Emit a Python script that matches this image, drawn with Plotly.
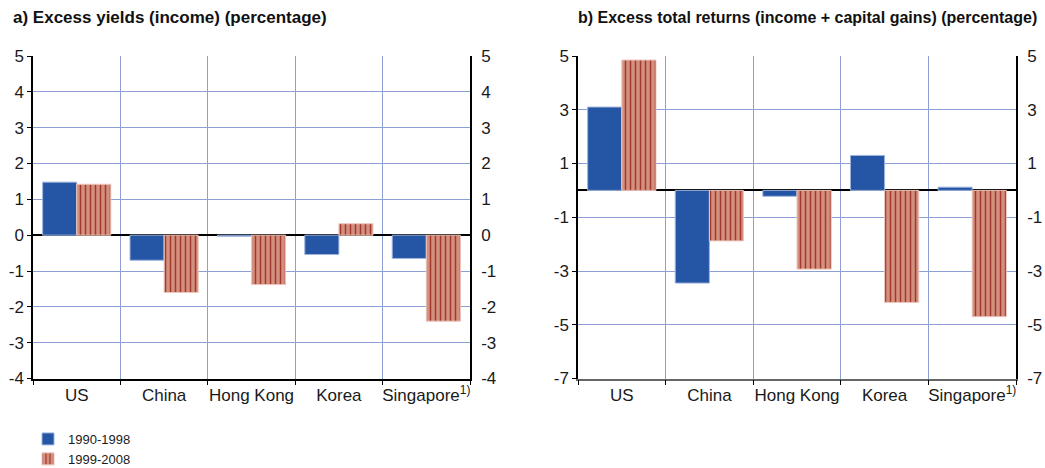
import plotly.graph_objects as go

categories = ["US", "China", "Hong Kong", "Korea", "Singapore<sup>1)</sup>"]
series_names = ["1990-1998", "1999-2008"]

# Panel a: excess yields (income), percentage
yields_1990_1998 = [1.48, -0.70, -0.03, -0.54, -0.65]
yields_1999_2008 = [1.42, -1.60, -1.38, 0.32, -2.40]

# Panel b: excess total returns (income + capital gains), percentage
returns_1990_1998 = [3.10, -3.45, -0.22, 1.30, 0.12]
returns_1999_2008 = [4.85, -1.88, -2.93, -4.17, -4.70]

ticks_a = [5, 4, 3, 2, 1, 0, -1, -2, -3, -4]
ticks_b = [5, 3, 1, -1, -3, -5, -7]
labels_a = [str(v) for v in ticks_a]
labels_b = [str(v) for v in ticks_b]

title_a = "<b>a) Excess yields (income) (percentage)</b>"
title_b = "<b>b) Excess total returns (income + capital gains) (percentage)</b>"

BLUE = "#2556a6"
RED_BG = "#d4907f"
RED_FG = "#a3382c"
GRID = "#8e9fd8"
FONT = "Liberation Sans"
TXT = "#1a1a1a"

W, H = 1045, 468
def px_x(p):
    return p / W
def px_y(p):
    return 1 - p / H

dom_a = [px_x(33), px_x(470)]
dom_b = [px_x(578), px_x(1016)]
dom_y = [px_y(378.5), px_y(56)]

fig = go.Figure()

def blue_bar(y, xa, ya, show):
    return go.Bar(x=categories, y=y, xaxis=xa, yaxis=ya, name=series_names[0],
                  legendgroup="a", showlegend=show,
                  marker=dict(color=BLUE, line=dict(color="#9fb4dc", width=1)))

def red_bar(y, xa, ya, show):
    return go.Bar(x=categories, y=y, xaxis=xa, yaxis=ya, name=series_names[1],
                  legendgroup="b", showlegend=show,
                  marker=dict(color=RED_BG, line=dict(color="#ecc6bd", width=1),
                              pattern=dict(shape="|", fillmode="replace",
                                           bgcolor=RED_BG, fgcolor=RED_FG,
                                           size=5, solidity=0.3)))

fig.add_trace(blue_bar(yields_1990_1998, "x", "y", True))
fig.add_trace(red_bar(yields_1999_2008, "x", "y", True))
fig.add_trace(blue_bar(returns_1990_1998, "x2", "y3", False))
fig.add_trace(red_bar(returns_1999_2008, "x2", "y3", False))
# invisible helpers so the right-hand axes are drawn
fig.add_trace(go.Scatter(x=categories, y=[0] * 5, xaxis="x", yaxis="y2", mode="markers",
                         marker=dict(opacity=0), showlegend=False, hoverinfo="skip"))
fig.add_trace(go.Scatter(x=categories, y=[0] * 5, xaxis="x2", yaxis="y4", mode="markers",
                         marker=dict(opacity=0), showlegend=False, hoverinfo="skip"))

xcommon = dict(type="category", tickson="boundaries", ticks="outside", ticklen=5,
               tickcolor="black", showline=True, linewidth=1.5,
               showgrid=True, gridcolor=GRID, gridwidth=1, tickangle=0,
               automargin=False, tickfont=dict(size=17, color=TXT), fixedrange=True)
ycommon = dict(showline=True, linecolor="black", linewidth=1.5, ticks="outside",
               ticklen=4, tickcolor="black", showgrid=True, gridcolor=GRID,
               gridwidth=1, zeroline=True, zerolinecolor="black", zerolinewidth=1.5,
               automargin=False, tickfont=dict(size=17, color=TXT), fixedrange=True)
yright = dict(side="right", showline=True, linecolor="black", linewidth=1.5,
              ticks="outside", ticklen=6, tickcolor="rgba(0,0,0,0)",
              showgrid=False, zeroline=False, automargin=False,
              tickfont=dict(size=17, color=TXT), fixedrange=True)

fig.update_layout(
    width=W, height=H,
    margin=dict(l=0, r=0, t=0, b=0, autoexpand=False),
    paper_bgcolor="white", plot_bgcolor="white",
    font=dict(family=FONT, color=TXT),
    barmode="group", bargap=0.22, bargroupgap=0.0,
    xaxis=dict(domain=dom_a, anchor="y", linecolor="black", **xcommon),
    xaxis2=dict(domain=dom_b, anchor="y3", linecolor="#666666", **xcommon),
    yaxis=dict(domain=dom_y, anchor="x", range=[-4, 5], tickvals=ticks_a,
               ticktext=labels_a, **ycommon),
    yaxis2=dict(domain=dom_y, anchor="x", overlaying="y", range=[-4, 5],
                tickvals=ticks_a, ticktext=labels_a, **yright),
    yaxis3=dict(domain=dom_y, anchor="x2", range=[-7, 5], tickvals=ticks_b,
                ticktext=labels_b, **ycommon),
    yaxis4=dict(domain=dom_y, anchor="x2", overlaying="y3", range=[-7, 5],
                tickvals=ticks_b, ticktext=labels_b, **yright),
    legend=dict(x=px_x(28), y=px_y(424), xanchor="left", yanchor="top",
                orientation="v", font=dict(size=13, color=TXT),
                bgcolor="rgba(0,0,0,0)", tracegroupgap=0, itemwidth=30),
    annotations=[
        dict(text=title_a, x=px_x(11), y=px_y(18), xref="paper", yref="paper",
             xanchor="left", yanchor="middle", showarrow=False,
             font=dict(size=17, color="#111")),
        dict(text=title_b, x=px_x(576), y=px_y(18), xref="paper", yref="paper",
             xanchor="left", yanchor="middle", showarrow=False,
             font=dict(size=16, color="#111")),
    ],
)

fig.write_html("out.html", config={"displayModeBar": False},
               post_script="document.body.style.margin='0px';document.body.style.padding='0px';")
